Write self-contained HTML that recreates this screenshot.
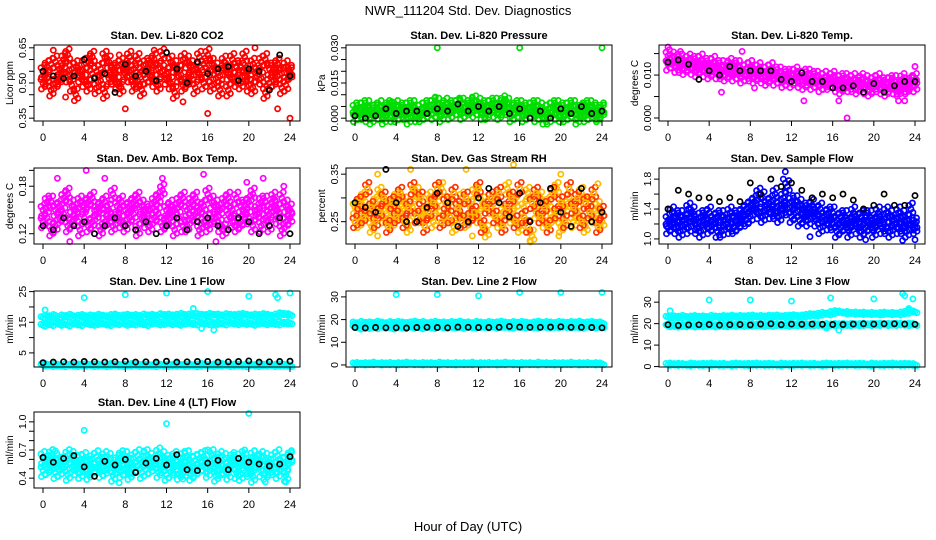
<!DOCTYPE html>
<html><head><meta charset="utf-8"><style>
html,body{margin:0;padding:0;background:#fff;}
svg{display:block;font-family:"Liberation Sans",Arial,sans-serif;}
</style></head><body>
<svg id="chart" width="936" height="540" viewBox="0 0 936 540" xmlns="http://www.w3.org/2000/svg">
<rect width="936" height="540" fill="#fff"/>
<text x="468" y="15" font-size="13" text-anchor="middle">NWR_111204  Std. Dev. Diagnostics</text>
<text x="468" y="531" font-size="13" text-anchor="middle">Hour of Day (UTC)</text>
</svg>
<script>
const hours=[0,0.4,0.8,1.2,1.6,2,2.4,2.8,3.2,3.6,4,4.4,4.8,5.2,5.6,6,6.4,6.8,7.2,7.6,8,8.4,8.8,9.2,9.6,10,10.4,10.8,11.2,11.6,12,12.4,12.8,13.2,13.6,14,14.4,14.8,15.2,15.6,16,16.4,16.8,17.2,17.6,18,18.4,18.8,19.2,19.6,20,20.4,20.8,21.2,21.6,22,22.4,22.8,23.2,23.6,24];
const hourly=[0,1,2,3,4,5,6,7,8,9,10,11,12,13,14,15,16,17,18,19,20,21,22,23,24];
const xTicks=[0,4,8,12,16,20,24];

const co2A=[0.55,0.52,0.58,0.50,0.56,0.60,0.53,0.49,0.57,0.55,0.51,0.59,0.54,0.48,0.56,0.61,0.52,0.55,0.50,0.58,0.57,0.53,0.49,0.60,0.55,0.52,0.58,0.51,0.56,0.62,0.54,0.50,0.57,0.55,0.49,0.59,0.53,0.56,0.61,0.50,0.55,0.58,0.52,0.47,0.56,0.54,0.60,0.51,0.57,0.53,0.49,0.58,0.55,0.52,0.60,0.50,0.56,0.53,0.48,0.57,0.54];
const co2B=[0.50,0.57,0.47,0.59,0.52,0.54,0.62,0.56,0.45,0.53,0.58,0.49,0.61,0.55,0.51,0.46,0.59,0.52,0.57,0.48,0.54,0.61,0.56,0.51,0.47,0.58,0.53,0.60,0.49,0.55,0.52,0.59,0.46,0.53,0.60,0.51,0.57,0.48,0.54,0.58,0.62,0.49,0.56,0.53,0.59,0.47,0.52,0.57,0.50,0.61,0.55,0.48,0.53,0.59,0.46,0.56,0.51,0.58,0.54,0.49,0.55];
const co2OutX=[1,8,10.8,13.6,16,20.6,22.8,24,7.4,2.2];
const co2OutY=[0.64,0.39,0.64,0.42,0.37,0.65,0.39,0.35,0.62,0.44];
const co2Black=[0.55,0.53,0.52,0.53,0.60,0.52,0.54,0.46,0.58,0.53,0.55,0.51,0.63,0.56,0.50,0.59,0.54,0.56,0.57,0.51,0.56,0.55,0.47,0.62,0.53];

const presA=[0.004,0.002,0.005,0.001,0.003,0.004,0.002,0.000,0.005,0.003,0.001,0.004,0.002,0.005,0.003,0.001,0.004,0.002,0.005,0.006,0.003,0.004,0.006,0.002,0.005,0.004,0.006,0.003,0.005,0.007,0.004,0.002,0.005,0.006,0.003,0.005,0.007,0.004,0.001,0.005,0.003,0.004,0.002,0.005,0.001,0.004,0.003,0.000,0.005,0.002,0.004,0.001,0.005,0.003,0.002,0.004,0.001,0.005,0.003,0.002,0.004];
const presB=[0.001,0.004,0.002,0.005,0.000,0.003,0.005,0.002,0.004,0.001,0.005,0.002,0.004,0.000,0.005,0.003,0.001,0.005,0.003,0.002,0.006,0.001,0.004,0.005,0.003,0.006,0.002,0.005,0.004,0.003,0.006,0.005,0.002,0.004,0.006,0.002,0.004,0.006,0.003,0.002,0.005,0.001,0.004,0.003,0.005,0.002,0.000,0.004,0.003,0.005,0.001,0.004,0.002,0.005,0.000,0.003,0.005,0.002,0.004,0.001,0.003];
const presOutX=[8,16,24,3.6,7.8,10.2,11.4,14.6,12.6];
const presOutY=[0.030,0.030,0.030,0.007,0.009,0.008,0.009,0.008,0.000];
const presBlack=[0.001,0.000,0.001,0.004,0.002,0.003,0.003,0.002,0.004,0.003,0.006,0.003,0.005,0.003,0.005,0.002,0.004,0.000,0.003,0.000,0.004,0.002,0.005,0.002,0.003];

const tempA=[0.0145,0.013,0.0135,0.012,0.013,0.0125,0.0115,0.013,0.012,0.011,0.0125,0.0115,0.012,0.0105,0.0115,0.011,0.012,0.0105,0.011,0.0115,0.010,0.011,0.0105,0.0095,0.011,0.010,0.0105,0.0095,0.010,0.009,0.010,0.0095,0.0085,0.010,0.009,0.0095,0.0085,0.009,0.008,0.009,0.0085,0.0075,0.009,0.008,0.0085,0.0075,0.008,0.009,0.007,0.008,0.0085,0.0075,0.007,0.008,0.0075,0.0085,0.007,0.008,0.0075,0.0085,0.009];
const tempB=[0.0125,0.014,0.012,0.0135,0.0115,0.0135,0.013,0.011,0.0135,0.0125,0.0105,0.013,0.0105,0.012,0.010,0.0125,0.010,0.012,0.0095,0.010,0.012,0.0095,0.0115,0.0105,0.009,0.0115,0.009,0.0105,0.0085,0.010,0.0085,0.0105,0.0095,0.008,0.010,0.008,0.0095,0.0075,0.0095,0.008,0.0095,0.0085,0.007,0.009,0.0075,0.009,0.007,0.008,0.0085,0.0065,0.0075,0.009,0.008,0.0065,0.0085,0.007,0.0065,0.009,0.007,0.008,0.0075];
const tempOutX=[0,1.2,7.2,5.2,8.4,13.2,16.6,17.4,22.4,23,24];
const tempOutY=[0.0165,0.0155,0.0155,0.006,0.007,0.004,0.004,0.000,0.004,0.004,0.012];
const tempBlack=[0.013,0.0135,0.0125,0.009,0.011,0.010,0.012,0.011,0.011,0.011,0.011,0.009,0.0085,0.0105,0.0085,0.0085,0.007,0.007,0.0075,0.006,0.008,0.006,0.0075,0.0085,0.0085];

const ambA=[0.15,0.14,0.16,0.13,0.155,0.145,0.17,0.135,0.15,0.16,0.14,0.13,0.165,0.145,0.155,0.135,0.15,0.17,0.14,0.16,0.13,0.155,0.145,0.165,0.14,0.15,0.13,0.16,0.145,0.175,0.135,0.155,0.15,0.14,0.165,0.13,0.16,0.145,0.15,0.135,0.17,0.14,0.155,0.13,0.16,0.145,0.15,0.165,0.135,0.155,0.14,0.17,0.15,0.13,0.16,0.145,0.155,0.14,0.165,0.135,0.15];
const ambB=[0.135,0.16,0.125,0.15,0.14,0.165,0.13,0.155,0.14,0.125,0.155,0.16,0.135,0.15,0.125,0.16,0.14,0.13,0.155,0.135,0.15,0.14,0.16,0.125,0.155,0.135,0.15,0.14,0.165,0.13,0.15,0.14,0.125,0.16,0.13,0.15,0.14,0.165,0.125,0.155,0.13,0.16,0.14,0.15,0.125,0.165,0.135,0.13,0.155,0.14,0.16,0.13,0.145,0.16,0.14,0.13,0.165,0.15,0.125,0.155,0.14];
const ambOutX=[1.4,4.2,6.0,11.6,15.6,19.8,21.4,23.4,2.6,16.8];
const ambOutY=[0.19,0.20,0.19,0.19,0.195,0.185,0.19,0.18,0.11,0.11];
const ambBlack=[0.13,0.125,0.14,0.13,0.135,0.12,0.13,0.14,0.13,0.125,0.135,0.12,0.13,0.14,0.125,0.135,0.14,0.13,0.125,0.14,0.135,0.12,0.13,0.14,0.12];

const rhA=[0.28,0.25,0.30,0.27,0.24,0.29,0.31,0.26,0.28,0.25,0.30,0.27,0.29,0.24,0.28,0.31,0.26,0.27,0.30,0.25,0.28,0.32,0.26,0.29,0.24,0.27,0.30,0.25,0.28,0.31,0.26,0.29,0.23,0.28,0.30,0.25,0.27,0.32,0.26,0.29,0.24,0.28,0.31,0.22,0.27,0.30,0.25,0.29,0.26,0.32,0.24,0.28,0.30,0.25,0.27,0.31,0.24,0.29,0.26,0.28,0.25];
const rhB=[0.25,0.29,0.26,0.32,0.28,0.25,0.27,0.30,0.24,0.29,0.26,0.31,0.25,0.28,0.32,0.26,0.30,0.24,0.27,0.29,0.32,0.25,0.29,0.26,0.31,0.28,0.25,0.30,0.26,0.27,0.32,0.24,0.28,0.30,0.26,0.31,0.24,0.28,0.30,0.25,0.32,0.26,0.24,0.29,0.31,0.26,0.28,0.24,0.31,0.27,0.29,0.25,0.32,0.28,0.30,0.25,0.29,0.27,0.31,0.24,0.27];
const rhOutX=[2.2,5.4,10.8,15.4,17.0,20.0,23.6,2.2,11.4,19.8];
const rhOutY=[0.35,0.36,0.36,0.37,0.21,0.35,0.33,0.22,0.22,0.22];
const rhBlack=[0.29,0.28,0.27,0.36,0.29,0.25,0.25,0.28,0.31,0.29,0.24,0.25,0.30,0.32,0.29,0.26,0.31,0.25,0.29,0.32,0.27,0.24,0.32,0.25,0.27];

const flowA=[1.25,1.35,1.15,1.30,1.20,1.40,1.25,1.15,1.30,1.20,1.35,1.25,1.10,1.30,1.20,1.35,1.15,1.30,1.25,1.40,1.45,1.50,1.35,1.55,1.40,1.50,1.35,1.45,1.55,1.40,1.50,1.35,1.45,1.30,1.40,1.35,1.25,1.40,1.30,1.20,1.35,1.25,1.15,1.30,1.20,1.35,1.25,1.30,1.15,1.30,1.20,1.35,1.25,1.15,1.30,1.20,1.35,1.15,1.25,1.40,1.20];
const flowB=[1.15,1.20,1.30,1.10,1.25,1.15,1.35,1.20,1.10,1.30,1.15,1.20,1.30,1.10,1.25,1.15,1.30,1.20,1.35,1.25,1.30,1.40,1.60,1.30,1.45,1.35,1.60,1.30,1.40,1.70,1.30,1.50,1.25,1.40,1.25,1.45,1.35,1.15,1.25,1.35,1.20,1.10,1.30,1.20,1.10,1.25,1.15,1.10,1.30,1.20,1.10,1.25,1.15,1.35,1.10,1.25,1.15,1.30,1.10,1.20,1.15];
const flowOutX=[11.4,13.8,19.2,22.8,24,11.2];
const flowOutY=[1.90,1.03,0.99,0.98,0.99,1.80];
const flowBlack=[1.40,1.65,1.60,1.55,1.55,1.50,1.55,1.50,1.75,1.60,1.80,1.70,1.75,1.65,1.55,1.60,1.55,1.60,1.52,1.40,1.45,1.60,1.45,1.45,1.58];

const l1A=[14,14.5,14.2,14.8,14.3,14.6,14.1,14.7,14.4,14.2,14.9,14.5,14.3,14.6,14.8,14.4,14.2,14.7,14.5,14.9,14.3,14.6,14.4,14.8,14.5,14.2,14.7,14.9,14.4,14.6,15,14.5,14.8,14.3,14.7,14.9,14.6,14.4,15,14.7,14.5,14.9,14.6,14.8,14.4,15,14.7,14.5,14.9,14.6,14.8,14.3,14.7,14.9,14.5,14.8,14.6,14.4,14.9,14.7,14.8];
const l1B=[16.5,17,16.8,17.2,16.6,17.1,16.9,17.3,16.7,17,17.2,16.8,17.1,16.9,17.3,17,16.8,17.2,17.4,16.9,17.1,17.3,17,17.2,16.9,17.4,17.1,17.3,17,17.5,17.2,17.4,17.1,17.3,17.6,17.2,17.4,17.1,17.5,17.3,17.2,17.6,17.3,17.4,17.1,17.5,17.3,17.2,17.4,17.6,17.3,17.1,17.4,17.2,17.5,17.3,17.0,17.4,17.8,17.6,17.5];
const l1Low=[1,1.2,0.9,1.1,1,0.8,1.2,1,0.9,1.1,1,1.2,0.9,1,1.1,0.8,1,1.2,1,0.9,1.1,1,1.2,0.9,1,1.1,1,0.8,1.2,1,0.9,1.1,1,1.2,0.9,1,1.1,0.8,1,1.2,1,0.9,1.1,1,1.2,0.9,1,1.1,1,0.8,1.2,1,0.9,1.1,1,1.2,0.9,1,1.1,1,0.9];
const l1OutX=[0.2,4,8,12,14.6,15.4,16,16.6,20,22.6,22.8,24];
const l1OutY=[19,23,24,24.5,19.5,13,25,12.5,23.5,24,23,24.5];
const l1Black=[1.8,2.0,2.1,2.0,2.2,2.1,2.0,2.1,2.3,2.0,2.1,2.0,2.3,2.0,2.1,2.2,2.2,2.0,2.1,2.2,2.4,2.0,2.1,2.2,2.3];

const l2A=[18.5,18.2,18.8,18.4,18.6,18.3,18.9,18.5,18.2,18.7,18.4,18.8,18.5,18.3,18.6,18.9,18.4,18.7,18.2,18.5,18.8,18.4,18.6,18.3,18.7,18.5,18.9,18.4,18.6,18.2,18.8,18.5,18.3,18.7,18.4,18.6,18.9,18.5,18.3,18.7,18.4,18.8,18.5,18.2,18.6,18.9,18.4,18.7,18.5,18.3,18.8,18.6,18.4,18.7,18.5,18.9,18.3,18.6,18.8,18.4,18.6];
const l2B=[16.8,16.2,17.0,16.5,16.9,16.4,17.1,16.6,16.9,16.3,17.0,16.7,16.5,17.1,16.6,16.9,16.4,17.0,16.7,16.5,17.1,16.8,16.6,17.0,16.7,16.9,16.5,17.1,16.8,16.6,17.0,16.9,16.7,17.1,16.6,16.9,17.0,16.8,16.6,17.1,16.9,16.7,17.0,16.8,16.6,17.1,16.9,16.7,17.0,16.8,17.1,16.9,16.7,17.0,16.8,16.6,17.1,16.9,16.7,17.0,16.8];
const l2Low=[0.5,0.7,0.4,0.6,0.5,0.8,0.4,0.6,0.5,0.7,0.4,0.6,0.5,0.8,0.5,0.6,0.4,0.7,0.5,0.6,0.4,0.8,0.5,0.6,0.4,0.7,0.5,0.6,0.5,0.8,0.4,0.6,0.5,0.7,0.4,0.6,0.5,0.8,0.5,0.6,0.4,0.7,0.5,0.6,0.4,0.8,0.5,0.6,0.4,0.7,0.5,0.6,0.5,0.8,0.4,0.6,0.5,0.7,0.4,0.6,0.5];
const l2OutX=[4,8,12,16,20,24];
const l2OutY=[31,31,30.5,32,32,32];
const l2Black=[16.5,16.3,16.5,16.4,16.4,16.3,16.5,16.6,16.5,16.4,16.7,16.6,16.5,16.5,16.6,17,16.7,16.6,16.6,16.7,16.8,16.6,16.6,16.5,16.4];

const l3A=[23,22.8,23.2,23,23.4,22.9,23.1,23.3,23,23.2,22.9,23.4,23.1,23,23.3,23.2,23.5,23.1,23.4,23.2,23.3,23.6,23.2,23.4,23.1,23.5,23.3,23.6,23.2,23.4,23.5,23.7,23.3,23.6,23.9,24.2,24,24.4,24.8,24.5,25.2,25.6,25.4,25,25.2,24.8,25,24.7,24.9,24.6,24.8,24.5,24.7,24.9,24.6,24.8,24.5,25,25.3,25.8,25.5];
const l3B=[19,19.2,18.8,19.1,19,19.3,18.9,19.2,19,19.1,19.3,18.9,19.2,19.1,19,19.3,19.2,19.4,19.1,19.3,19.2,19.4,19.3,19.1,19.4,19.2,19.5,19.3,19.4,19.2,19.5,19.4,19.6,19.3,19.5,19.4,19.6,19.5,19.3,19.6,19.4,19.7,19.5,19.6,19.4,19.7,19.5,19.6,19.8,19.5,19.7,19.6,19.8,19.5,19.7,19.6,19.8,19.7,19.5,19.8,19.6];
const l3Low=[1,1.2,0.9,1.1,1,0.8,1.2,1,0.9,1.1,1,1.2,0.9,1,1.1,0.8,1,1.2,1,0.9,1.1,1,1.2,0.9,1,1.1,1,0.8,1.2,1,0.9,1.1,1,1.2,0.9,1,1.1,0.8,1,1.2,1,0.9,1.1,1,1.2,0.9,1,1.1,1,0.8,1.2,1,0.9,1.1,1,1.2,0.9,1,1.1,1,0.9];
const l3OutX=[0.2,4,8,12,15.8,16.6,20,22.8,23,23.4,23.8,15.4];
const l3OutY=[26,31,31,30.5,32,17,31.5,34,33,27,31.5,18];
const l3Black=[19.5,19.2,19.4,19.5,19.6,19.3,19.5,19.6,19.4,19.8,19.9,19.5,19.8,19.7,19.8,19.7,19.6,19.6,19.8,19.9,19.8,19.9,19.9,19.8,19.7];

const l4A=[0.62,0.50,0.55,0.60,0.48,0.57,0.64,0.52,0.58,0.46,0.61,0.54,0.50,0.63,0.56,0.49,0.60,0.53,0.58,0.47,0.62,0.55,0.51,0.64,0.57,0.49,0.60,0.54,0.66,0.52,0.58,0.47,0.62,0.55,0.50,0.63,0.57,0.48,0.61,0.54,0.52,0.64,0.56,0.49,0.60,0.53,0.58,0.46,0.62,0.55,0.51,0.63,0.57,0.48,0.60,0.54,0.50,0.64,0.56,0.52,0.61];
const l4B=[0.48,0.58,0.64,0.46,0.56,0.51,0.44,0.62,0.50,0.59,0.53,0.45,0.60,0.52,0.47,0.62,0.55,0.43,0.52,0.63,0.50,0.45,0.61,0.53,0.46,0.64,0.51,0.58,0.47,0.62,0.44,0.57,0.52,0.45,0.62,0.49,0.44,0.59,0.52,0.63,0.47,0.55,0.43,0.62,0.50,0.45,0.61,0.55,0.44,0.60,0.48,0.42,0.58,0.62,0.45,0.50,0.61,0.46,0.55,0.43,0.63];
const l4OutX=[4,12,20,7.4,21.6,23.6,13.6,1.2,9.8,16.0,19.6];
const l4OutY=[0.91,0.98,1.09,0.35,0.36,0.36,0.39,0.69,0.69,0.70,0.70];
const l4Black=[0.62,0.57,0.61,0.64,0.52,0.42,0.58,0.54,0.60,0.46,0.56,0.61,0.54,0.65,0.49,0.48,0.56,0.59,0.49,0.61,0.57,0.55,0.53,0.55,0.63];

const RED='#ff0000',GRN='#00dd00',MAG='#ff00ff',BLU='#0000ff',CYN='#00ffff',BLK='#000000',ORG='#ffbb00',ORR='#ff3300';
// series: [x, y, colour, marker style: 0 single, 1 cloud cluster, 2 horizontal band]
const panels=[
 {name:'co2',title:'Stan. Dev. Li-820 CO2',ylab:'Licor ppm',col:0,row:0,dom:[0.338,0.662],ticks:[0.35,0.40,0.45,0.50,0.55,0.60,0.65],labels:{'0.35':'0.35','0.5':'0.50','0.65':'0.65'},
  series:[[hours,co2A,RED,1],[hours,co2B,RED,1],[co2OutX,co2OutY,RED,0],[hourly,co2Black,BLK,0]]},
 {name:'pressure',title:'Stan. Dev. Li-820 Pressure',ylab:'kPa',col:1,row:0,dom:[-0.0012,0.0312],ticks:[0,0.005,0.01,0.015,0.02,0.025,0.03],labels:{'0':'0.000','0.015':'0.015','0.03':'0.030'},
  series:[[hours,presA,GRN,1],[hours,presB,GRN,1],[presOutX,presOutY,GRN,0],[hourly,presBlack,BLK,0]]},
 {name:'temp',title:'Stan. Dev. Li-820 Temp.',ylab:'degrees C',col:2,row:0,dom:[-0.0007,0.017],ticks:[0,0.005,0.01,0.015],labels:{'0':'0.000','0.01':'0.010'},
  series:[[hours,tempA,MAG,1],[hours,tempB,MAG,1],[tempOutX,tempOutY,MAG,0],[hourly,tempBlack,BLK,0]]},
 {name:'amb-box',title:'Stan. Dev. Amb. Box Temp.',ylab:'degrees C',col:0,row:1,dom:[0.107,0.203],ticks:[0.12,0.14,0.16,0.18,0.20],labels:{'0.12':'0.12','0.18':'0.18'},
  series:[[hours,ambA,MAG,1],[hours,ambB,MAG,1],[ambOutX,ambOutY,MAG,0],[hourly,ambBlack,BLK,0]]},
 {name:'rh',title:'Stan. Dev. Gas Stream RH',ylab:'percent',col:1,row:1,dom:[0.203,0.363],ticks:[0.25,0.30,0.35],labels:{'0.25':'0.25','0.35':'0.35'},
  series:[[hours,rhA,ORG,1],[hours,rhB,ORR,1],[hours,rhB,ORG,0],[rhOutX,rhOutY,ORG,0],[hourly,rhBlack,BLK,0]]},
 {name:'sample-flow',title:'Stan. Dev. Sample Flow',ylab:'ml/min',col:2,row:1,dom:[0.932,1.949],ticks:[1.0,1.2,1.4,1.6,1.8],labels:{'1':'1.0','1.4':'1.4','1.8':'1.8'},
  series:[[hours,flowA,BLU,1],[hours,flowB,BLU,1],[flowOutX,flowOutY,BLU,0],[hourly,flowBlack,BLK,0]]},
 {name:'line1',title:'Stan. Dev. Line 1 Flow',ylab:'ml/min',col:0,row:2,dom:[0.4,25.2],ticks:[5,10,15,20,25],labels:{'5':'5','15':'15','25':'25'},
  series:[[hours,l1A,CYN,2],[hours,l1B,CYN,2],[hours,l1Low,CYN,2],[l1OutX,l1OutY,CYN,0],[hourly,l1Black,BLK,0]]},
 {name:'line2',title:'Stan. Dev. Line 2 Flow',ylab:'ml/min',col:1,row:2,dom:[-0.9,32.6],ticks:[0,10,20,30],labels:{'0':'0','10':'10','20':'20','30':'30'},
  series:[[hours,l2A,CYN,2],[hours,l2B,CYN,2],[hours,l2Low,CYN,2],[l2OutX,l2OutY,CYN,0],[hourly,l2Black,BLK,0]]},
 {name:'line3',title:'Stan. Dev. Line 3 Flow',ylab:'ml/min',col:2,row:2,dom:[-0.2,35.2],ticks:[0,10,20,30],labels:{'0':'0','10':'10','20':'20','30':'30'},
  series:[[hours,l3A,CYN,2],[hours,l3B,CYN,2],[hours,l3Low,CYN,2],[l3OutX,l3OutY,CYN,0],[hourly,l3Black,BLK,0]]},
 {name:'line4',title:'Stan. Dev. Line 4 (LT) Flow',ylab:'ml/min',col:0,row:3,dom:[0.295,1.105],ticks:[0.4,0.5,0.6,0.7,0.8,0.9,1.0],labels:{'0.4':'0.4','0.7':'0.7','1':'1.0'},
  series:[[hours,l4A,CYN,1],[hours,l4B,CYN,1],[l4OutX,l4OutY,CYN,0],[hourly,l4Black,BLK,0]]}
];

const NS='http://www.w3.org/2000/svg';
const svg=document.getElementById('chart');
const colOff=[0,312,625];
const rowTop=[45,168,291,412];
const boxW=266,boxH=76;
// marker glyph shapes (pixel offsets within a cluster marker)
const cloudGlyph=[[0,0],[-2,-3.5],[2,3.5],[1.5,-6],[-1.5,6]];
const lineGlyph=[[0,0],[-2,-1],[2,1]];
function mk(tag,attrs,parent){const e=document.createElementNS(NS,tag);for(const k in attrs)e.setAttribute(k,attrs[k]);parent.appendChild(e);return e;}

panels.forEach(p=>{
  const L=34+colOff[p.col],T=rowTop[p.row],R=L+boxW,B=T+boxH;
  const xs=h=>L+9+h/24*247;
  const ys=v=>T+(p.dom[1]-v)/(p.dom[1]-p.dom[0])*boxH;
  const g=mk('g',{},svg);
  
  
  const t=mk('text',{x:(L+R)/2,y:T-6,'font-size':11,'font-weight':'bold','text-anchor':'middle'},g);
  t.textContent=p.title;
  
  
  const yl=mk('text',{transform:'translate('+(L-21)+','+(T+boxH/2)+') rotate(-90)','font-size':10,'text-anchor':'middle'},g);
  yl.textContent=p.ylab;
  
  
  const marks=mk('g',{fill:'none','stroke-width':1.7},g);
  
  
  p.series.forEach(s=>{
    const xa=s[0],ya=s[1],c=s[2],dense=s[3];
    const glyph=dense===1?cloudGlyph:(dense===2?lineGlyph:[[0,0]]);
    for(let i=0;i<ya.length;i++){
      const px=xs(xa[i]),py=ys(ya[i]);
      const pt=mk('g',{stroke:c},marks);
      
      
      glyph.forEach(o=>{
        mk('circle',{cx:(px+o[0]).toFixed(1),cy:(py+o[1]).toFixed(1),r:2.6},pt);
      });
    }
  });
  const box=mk('rect',{x:L,y:T,width:boxW,height:boxH,fill:'none',stroke:'#000','stroke-width':1},g);
  
  
  const xa=mk('g',{},g);
  
  
  mk('line',{x1:xs(0),x2:xs(24),y1:B,y2:B,stroke:'#000'},xa);
  xTicks.forEach(h=>{
    mk('line',{x1:xs(h),x2:xs(h),y1:B,y2:B+5,stroke:'#000'},xa);
    const tl=mk('text',{x:xs(h),y:B+20,'font-size':11,'text-anchor':'middle'},xa);
    tl.textContent=h;
  });
  const ya=mk('g',{},g);
  
  
  mk('line',{x1:L,x2:L,y1:ys(p.ticks[0]),y2:ys(p.ticks[p.ticks.length-1]),stroke:'#000'},ya);
  p.ticks.forEach(v=>{
    mk('line',{x1:L-5,x2:L,y1:ys(v),y2:ys(v),stroke:'#000'},ya);
    const lab=p.labels[String(v)];
    if(lab){
      const tl=mk('text',{transform:'translate('+(L-8)+','+ys(v)+') rotate(-90)','font-size':10.5,'text-anchor':'middle'},ya);
      tl.textContent=lab;
    }
  });
});
</script>
</body></html>
